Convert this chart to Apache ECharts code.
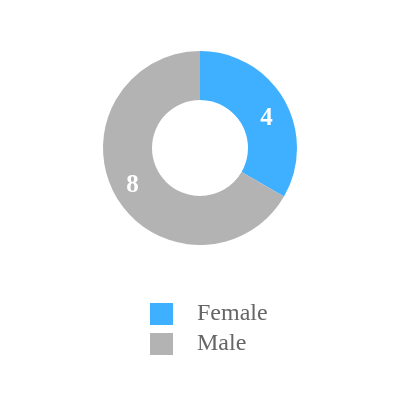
<!DOCTYPE html>
<html><head><meta charset="utf-8">
<script src="https://cdn.jsdelivr.net/npm/echarts@6/dist/echarts.min.js"></script>
<style>html,body{margin:0;padding:0;background:#fff}#c{width:400px;height:400px}</style>
</head><body><div id="c"></div>
<script>
var categories = ['Female', 'Male'];
var values = [4, 8];
var colors = ['#3fafff', '#b3b3b3'];
var labelOffsets = [[1, 8], [-2, 0]];

var chart = echarts.init(document.getElementById('c'));
chart.setOption({
  animation: false,
  legend: {
    orient: 'vertical',
    left: 145,
    top: 296,
    itemWidth: 23,
    itemHeight: 22,
    itemGap: 4,
    icon: 'rect',
    textStyle: { fontFamily: 'Liberation Serif', fontSize: 24, lineHeight: 18, color: '#666', padding: [8, 0, 0, 19] },
    data: categories
  },
  series: [{
    type: 'pie',
    center: [200, 148],
    radius: ['24%', '48.5%'],
    startAngle: 90,
    clockwise: true,
    label: {
      show: true,
      position: 'inside',
      formatter: '{c}',
      color: '#fff',
      fontFamily: 'Liberation Serif',
      fontWeight: 'bold',
      fontSize: 25
    },
    labelLine: { show: false },
    itemStyle: { borderWidth: 0 },
    data: categories.map(function (n, i) {
      return { name: n, value: values[i], itemStyle: { color: colors[i] }, label: { offset: labelOffsets[i] } };
    })
  }]
});
</script></body></html>
